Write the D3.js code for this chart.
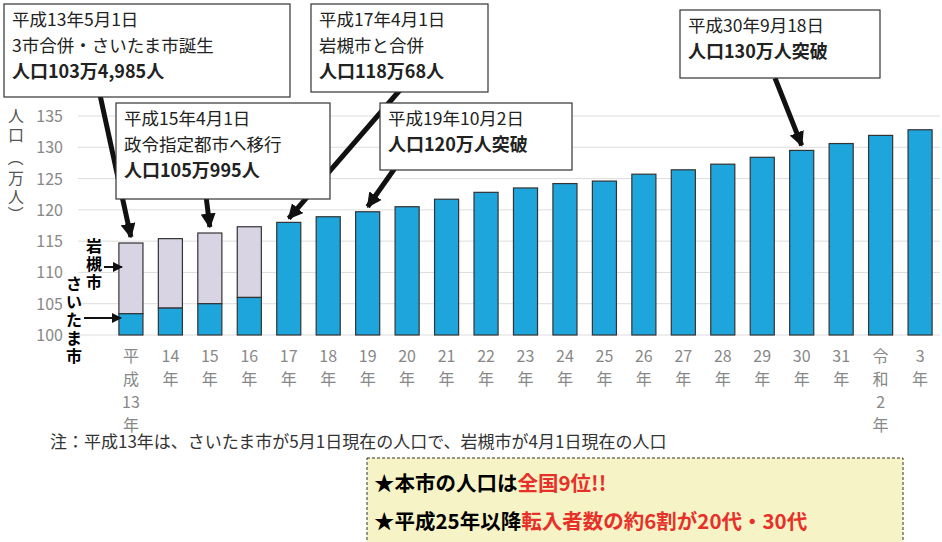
<!DOCTYPE html>
<html><head><meta charset="utf-8">
<script src="https://cdn.jsdelivr.net/npm/d3@7"></script>
<style>body{margin:0;background:#fff}text{font-family:"Noto Sans CJK JP",sans-serif}</style>
</head><body><svg id="c" width="942" height="542"></svg>
<script>
// data
var years = [["平","成","13","年"],["14","年"],["15","年"],["16","年"],["17","年"],["18","年"],["19","年"],["20","年"],["21","年"],["22","年"],["23","年"],["24","年"],["25","年"],["26","年"],["27","年"],["28","年"],["29","年"],["30","年"],["31","年"],["令","和","2","年"],["3","年"]];
var totals = [114.7,115.4,116.3,117.3,118.0,118.9,119.7,120.5,121.7,122.8,123.5,124.2,124.6,125.7,126.4,127.3,128.4,129.5,130.6,131.9,132.8];
var saitama = [103.4,104.3,105.0,106.0];
var yTicks = [100,105,110,115,120,125,130,135];

var svg = d3.select("#c");
var x = d3.scaleBand().domain(d3.range(years.length)).range([111,940]).paddingInner(0.39).paddingOuter(0.2);
var y = d3.scaleLinear().domain([100,135]).range([335,116]);
var blue = "#1ea5dc", lilac = "#d9d4e3";

yTicks.forEach(function(t){
  svg.append("line").attr("x1",78).attr("x2",940).attr("y1",y(t)).attr("y2",y(t)).attr("stroke","#ddd");
  svg.append("text").attr("x",63).attr("y",y(t)+6).attr("text-anchor","end").attr("font-size",16).attr("fill","#888").text(t);
});

totals.forEach(function(v,i){
  var g = svg.append("g");
  var xi = x(i), w = x.bandwidth();
  if (i < saitama.length) {
    g.append("rect").attr("x",xi).attr("y",y(v)).attr("width",w).attr("height",y(saitama[i])-y(v)).attr("fill",lilac).attr("stroke","#333").attr("stroke-width",1.2);
    g.append("rect").attr("x",xi).attr("y",y(saitama[i])).attr("width",w).attr("height",y(100)-y(saitama[i])).attr("fill",blue).attr("stroke","#333").attr("stroke-width",1.2);
  } else {
    g.append("rect").attr("x",xi).attr("y",y(v)).attr("width",w).attr("height",y(100)-y(v)).attr("fill",blue).attr("stroke","#333").attr("stroke-width",1.2);
  }
  years[i].forEach(function(s,k){
    svg.append("text").attr("x",xi+w/2).attr("y",362+k*23).attr("text-anchor","middle").attr("font-size",16).attr("fill","#888").text(s);
  });
});

// y title
var yt = [["人",122],["口",141],["（",164],["万",184],["人",203],["）",220]];
yt.forEach(function(d){
  var paren = d[0]=="（"||d[0]=="）";
  svg.append("text").attr("x",16).attr("y",d[1]).attr("text-anchor","middle").attr("font-size",16).attr("fill","#555")
    .attr("transform", paren ? "rotate(90,16,"+(d[1]-6)+")" : null).text(d[0]);
});

// left labels
svg.append("defs").append("marker").attr("id","ah").attr("viewBox","0 0 10 10").attr("refX",9).attr("refY",5)
  .attr("markerWidth",5).attr("markerHeight",5).attr("orient","auto").append("path").attr("d","M0,0L10,5L0,10z").attr("fill","#111");
svg.append("defs").append("marker").attr("id","ah2").attr("viewBox","0 0 10 10").attr("refX",9).attr("refY",5)
  .attr("markerWidth",3).attr("markerHeight",3).attr("orient","auto").append("path").attr("d","M0,0L10,5L0,10z").attr("fill","#111");
"岩槻市".split("").forEach(function(c,k){
  svg.append("text").attr("x",94).attr("y",252+k*18).attr("text-anchor","middle").attr("font-size",16).attr("font-weight","bold").text(c);
});
"さいたま市".split("").forEach(function(c,k){
  svg.append("text").attr("x",74).attr("y",290+k*18).attr("text-anchor","middle").attr("font-size",16).attr("font-weight","bold").text(c);
});
svg.append("line").attr("x1",104).attr("y1",267).attr("x2",122).attr("y2",267).attr("stroke","#111").attr("stroke-width",2).attr("marker-end","url(#ah)");
svg.append("line").attr("x1",84).attr("y1",318).attr("x2",121).attr("y2",318).attr("stroke","#111").attr("stroke-width",2).attr("marker-end","url(#ah)");

// arrows (behind boxes)
function arrow(x1,y1,i,dy){
  var tx = x(i)+x.bandwidth()/2, ty = y(totals[i])-dy;
  svg.append("line").attr("x1",x1).attr("y1",y1).attr("x2",tx).attr("y2",ty).attr("stroke","#111").attr("stroke-width",5).attr("marker-end","url(#ah2)");
}
arrow(100,95,0,6); arrow(206,196,2,6); arrow(400,90,4,4); arrow(395,168,6,5); arrow(775,78,17,5);

var boxes = [
  {x:4,y:4,w:286,h:93,l:["平成13年5月1日","3市合併・さいたま市誕生","人口103万4,985人"]},
  {x:116,y:103,w:214,h:96,l:["平成15年4月1日","政令指定都市へ移行","人口105万995人"]},
  {x:311,y:4,w:177,h:88,l:["平成17年4月1日","岩槻市と合併","人口118万68人"]},
  {x:380,y:103,w:192,h:67,l:["平成19年10月2日","人口120万人突破"]},
  {x:680,y:10,w:200,h:68,l:["平成30年9月18日","人口130万人突破"]}
];
boxes.forEach(function(b){
  svg.append("rect").attr("x",b.x).attr("y",b.y).attr("width",b.w).attr("height",b.h).attr("fill","#fff").attr("stroke","#333").attr("stroke-width",1.2);
  b.l.forEach(function(s,k){
    var last = k==b.l.length-1;
    svg.append("text").attr("x",b.x+8).attr("y",b.y+22+k*26).attr("font-size",last?18:17.5)
      .attr("font-weight",last?"bold":"normal").attr("fill","#222").text(s);
  });
});

svg.append("text").attr("x",50).attr("y",448).attr("font-size",17).attr("fill","#333")
  .text("注：平成13年は、さいたま市が5月1日現在の人口で、岩槻市が4月1日現在の人口");

svg.append("rect").attr("x",367).attr("y",458).attr("width",536).attr("height",90).attr("fill","#f6f4c6").attr("stroke","#333").attr("stroke-dasharray","3,2");
var t1 = svg.append("text").attr("x",374).attr("y",491).attr("font-size",20.5).attr("font-weight","bold");
t1.append("tspan").text("★本市の人口は"); t1.append("tspan").attr("fill","#e8302a").text("全国9位!!");
var t2 = svg.append("text").attr("x",374).attr("y",529).attr("font-size",20.5).attr("font-weight","bold");
t2.append("tspan").text("★平成25年以降"); t2.append("tspan").attr("fill","#e8302a").text("転入者数の約6割が20代・30代");
</script></body></html>
